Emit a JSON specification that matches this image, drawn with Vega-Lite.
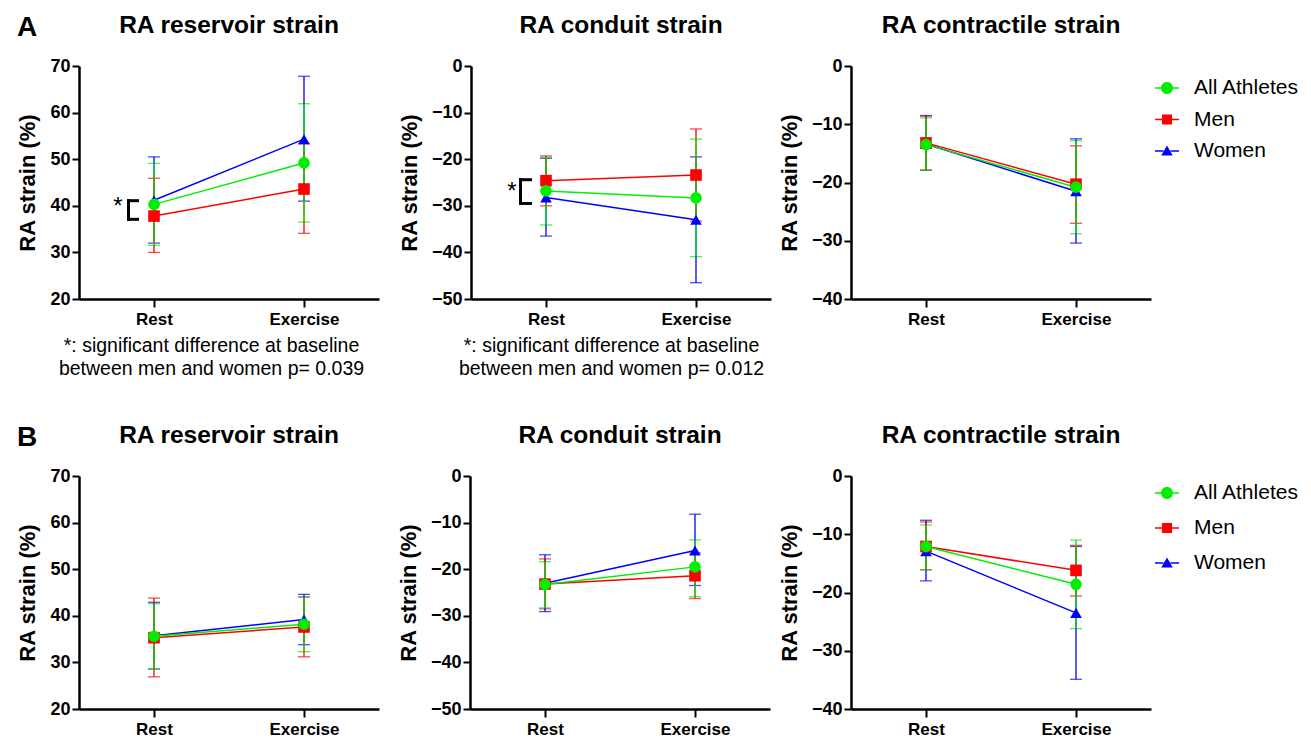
{
  "$schema": "https://vega.github.io/schema/vega-lite/v6.json",
  "padding": {"left": 16, "top": 12, "right": 0, "bottom": 0},
  "background": "white",
  "data": {"values": [
    {"p":"A1","t":"Rest","g":"Women","m":41.2,"lo":32.0,"hi":50.5},
    {"p":"A1","t":"Exercise","g":"Women","m":54.3,"lo":41.0,"hi":67.8},
    {"p":"A1","t":"Rest","g":"Men","m":37.8,"lo":30.0,"hi":45.9},
    {"p":"A1","t":"Exercise","g":"Men","m":43.6,"lo":34.1,"hi":53.3},
    {"p":"A1","t":"Rest","g":"All Athletes","m":40.3,"lo":31.5,"hi":49.1},
    {"p":"A1","t":"Exercise","g":"All Athletes","m":49.2,"lo":36.5,"hi":61.9},
    {"p":"A2","t":"Rest","g":"Women","m":-28.2,"lo":-36.5,"hi":-19.8},
    {"p":"A2","t":"Exercise","g":"Women","m":-33.0,"lo":-46.5,"hi":-19.5},
    {"p":"A2","t":"Rest","g":"Men","m":-24.6,"lo":-30.0,"hi":-19.3},
    {"p":"A2","t":"Exercise","g":"Men","m":-23.4,"lo":-33.3,"hi":-13.5},
    {"p":"A2","t":"Rest","g":"All Athletes","m":-26.8,"lo":-34.1,"hi":-19.6},
    {"p":"A2","t":"Exercise","g":"All Athletes","m":-28.3,"lo":-40.9,"hi":-15.7},
    {"p":"A3","t":"Rest","g":"Women","m":-13.4,"lo":-17.9,"hi":-8.5},
    {"p":"A3","t":"Exercise","g":"Women","m":-21.5,"lo":-30.4,"hi":-12.5},
    {"p":"A3","t":"Rest","g":"Men","m":-13.2,"lo":-17.9,"hi":-8.6},
    {"p":"A3","t":"Exercise","g":"Men","m":-20.3,"lo":-27.0,"hi":-13.7},
    {"p":"A3","t":"Rest","g":"All Athletes","m":-13.5,"lo":-17.9,"hi":-8.9},
    {"p":"A3","t":"Exercise","g":"All Athletes","m":-20.8,"lo":-28.8,"hi":-12.8},
    {"p":"B1","t":"Rest","g":"Women","m":35.7,"lo":28.6,"hi":42.9},
    {"p":"B1","t":"Exercise","g":"Women","m":39.2,"lo":33.8,"hi":44.6},
    {"p":"B1","t":"Rest","g":"Men","m":35.3,"lo":26.9,"hi":43.8},
    {"p":"B1","t":"Exercise","g":"Men","m":37.6,"lo":31.2,"hi":44.0},
    {"p":"B1","t":"Rest","g":"All Athletes","m":35.6,"lo":28.6,"hi":42.6},
    {"p":"B1","t":"Exercise","g":"All Athletes","m":38.2,"lo":32.3,"hi":44.1},
    {"p":"B2","t":"Rest","g":"Women","m":-23.0,"lo":-29.1,"hi":-16.9},
    {"p":"B2","t":"Exercise","g":"Women","m":-16.0,"lo":-23.5,"hi":-8.2},
    {"p":"B2","t":"Rest","g":"Men","m":-23.2,"lo":-28.5,"hi":-17.8},
    {"p":"B2","t":"Exercise","g":"Men","m":-21.4,"lo":-26.3,"hi":-16.5},
    {"p":"B2","t":"Rest","g":"All Athletes","m":-23.3,"lo":-28.3,"hi":-18.4},
    {"p":"B2","t":"Exercise","g":"All Athletes","m":-19.5,"lo":-25.9,"hi":-13.7},
    {"p":"B3","t":"Rest","g":"Women","m":-12.9,"lo":-18.0,"hi":-7.6},
    {"p":"B3","t":"Exercise","g":"Women","m":-23.5,"lo":-34.9,"hi":-12.1},
    {"p":"B3","t":"Rest","g":"Men","m":-12.1,"lo":-16.1,"hi":-7.9},
    {"p":"B3","t":"Exercise","g":"Men","m":-16.2,"lo":-20.6,"hi":-11.9},
    {"p":"B3","t":"Rest","g":"All Athletes","m":-12.1,"lo":-16.1,"hi":-8.4},
    {"p":"B3","t":"Exercise","g":"All Athletes","m":-18.6,"lo":-26.2,"hi":-11.0}
  ]},
  "vconcat": [
    {
      "title": {"text": "A", "anchor": "start", "frame": "bounds", "fontSize": 28, "dy": 29, "offset": 0},
      "bounds": "flush",
      "spacing": 92,
      "resolve": {"scale": {"color": "independent", "shape": "independent"}},
      "hconcat": [
        {
          "width": 300, "height": 233,
          "title": "RA reservoir strain",
          "transform": [{"filter": "datum.p==='A1'"}],
          "encoding": {
            "x": {"field": "t", "type": "ordinal", "sort": ["Rest", "Exercise"], "scale": {"type": "point", "padding": 0.5},
                  "axis": {"title": ["*: significant difference at baseline", "between men and women p= 0.039"], "titleX": 132, "titleAlign": "center", "titleFontSize": 19.5, "titleFontWeight": "normal", "titleLineHeight": 23, "titlePadding": 9, "titleBaseline": "top"}},
            "color": {"field": "g", "type": "nominal", "scale": {"domain": ["All Athletes", "Men", "Women"], "range": ["#00ee00", "#ff0000", "#0000ff"]}, "legend": null}
          },
          "layer": [
            {"mark": {"type": "errorbar", "ticks": {"size": 12, "thickness": 1.3}, "rule": {"strokeWidth": 1.3}},
             "encoding": {"y": {"field": "lo", "type": "quantitative", "scale": {"domain": [20, 70]}, "axis": {"title": "RA strain (%)", "values": [20, 30, 40, 50, 60, 70]}}, "y2": {"field": "hi"}}},
            {"mark": {"type": "line", "strokeWidth": 1.5},
             "encoding": {"y": {"field": "m", "type": "quantitative", "scale": {"domain": [20, 70]}, "axis": {"title": "RA strain (%)", "values": [20, 30, 40, 50, 60, 70]}}}},
            {"mark": {"type": "point", "filled": true, "opacity": 1, "size": 135},
             "encoding": {"y": {"field": "m", "type": "quantitative", "scale": {"domain": [20, 70]}, "axis": {"title": "RA strain (%)", "values": [20, 30, 40, 50, 60, 70]}},
                          "shape": {"field": "g", "type": "nominal", "scale": {"domain": ["All Athletes", "Men", "Women"], "range": ["circle", "square", "triangle-up"]}, "legend": null}}},
            {"data": {"values": [{}]}, "mark": {"type": "rule", "strokeWidth": 3, "strokeCap": "square", "xOffset": -25.5},
             "encoding": {"x": {"datum": "Rest"}, "y": {"datum": 37.1}, "y2": {"datum": 41.1}, "color": {"value": "black"}}},
            {"data": {"values": [{}]}, "mark": {"type": "rule", "strokeWidth": 3, "xOffset": -27, "x2Offset": -15},
             "encoding": {"x": {"datum": "Rest"}, "x2": {"datum": "Rest"}, "y": {"datum": 41.1}, "color": {"value": "black"}}},
            {"data": {"values": [{}]}, "mark": {"type": "rule", "strokeWidth": 3, "xOffset": -27, "x2Offset": -15},
             "encoding": {"x": {"datum": "Rest"}, "x2": {"datum": "Rest"}, "y": {"datum": 37.1}, "color": {"value": "black"}}},
            {"data": {"values": [{}]}, "mark": {"type": "text", "text": "*", "fontSize": 24, "xOffset": -36, "dy": -1, "baseline": "middle", "align": "center"},
             "encoding": {"x": {"datum": "Rest"}, "y": {"datum": 39.6}, "color": {"value": "black"}}}
          ]
        },
        {
          "bounds": "flush",
          "spacing": 80,
          "resolve": {"scale": {"color": "independent", "shape": "independent"}},
          "hconcat": [
            {
              "width": 300, "height": 233,
              "title": "RA conduit strain",
              "transform": [{"filter": "datum.p==='A2'"}],
              "encoding": {
                "x": {"field": "t", "type": "ordinal", "sort": ["Rest", "Exercise"], "scale": {"type": "point", "padding": 0.5},
                      "axis": {"title": ["*: significant difference at baseline", "between men and women p= 0.012"], "titleX": 140, "titleAlign": "center", "titleFontSize": 19.5, "titleFontWeight": "normal", "titleLineHeight": 23, "titlePadding": 9, "titleBaseline": "top"}},
                "color": {"field": "g", "type": "nominal", "scale": {"domain": ["All Athletes", "Men", "Women"], "range": ["#00ee00", "#ff0000", "#0000ff"]}, "legend": null}
              },
              "layer": [
                {"mark": {"type": "errorbar", "ticks": {"size": 12, "thickness": 1.3}, "rule": {"strokeWidth": 1.3}},
                 "encoding": {"y": {"field": "lo", "type": "quantitative", "scale": {"domain": [-50, 0]}, "axis": {"title": "RA strain (%)", "values": [-50, -40, -30, -20, -10, 0]}}, "y2": {"field": "hi"}}},
                {"mark": {"type": "line", "strokeWidth": 1.5},
                 "encoding": {"y": {"field": "m", "type": "quantitative", "scale": {"domain": [-50, 0]}, "axis": {"title": "RA strain (%)", "values": [-50, -40, -30, -20, -10, 0]}}}},
                {"mark": {"type": "point", "filled": true, "opacity": 1, "size": 135},
                 "encoding": {"y": {"field": "m", "type": "quantitative", "scale": {"domain": [-50, 0]}, "axis": {"title": "RA strain (%)", "values": [-50, -40, -30, -20, -10, 0]}},
                              "shape": {"field": "g", "type": "nominal", "scale": {"domain": ["All Athletes", "Men", "Women"], "range": ["circle", "square", "triangle-up"]}, "legend": null}}},
                {"data": {"values": [{}]}, "mark": {"type": "rule", "strokeWidth": 3, "strokeCap": "square", "xOffset": -25.5},
                 "encoding": {"x": {"datum": "Rest"}, "y": {"datum": -29.5}, "y2": {"datum": -24.4}, "color": {"value": "black"}}},
                {"data": {"values": [{}]}, "mark": {"type": "rule", "strokeWidth": 3, "xOffset": -27, "x2Offset": -14},
                 "encoding": {"x": {"datum": "Rest"}, "x2": {"datum": "Rest"}, "y": {"datum": -24.4}, "color": {"value": "black"}}},
                {"data": {"values": [{}]}, "mark": {"type": "rule", "strokeWidth": 3, "xOffset": -27, "x2Offset": -14},
                 "encoding": {"x": {"datum": "Rest"}, "x2": {"datum": "Rest"}, "y": {"datum": -29.5}, "color": {"value": "black"}}},
                {"data": {"values": [{}]}, "mark": {"type": "text", "text": "*", "fontSize": 24, "xOffset": -34, "dy": 2, "baseline": "middle", "align": "center"},
                 "encoding": {"x": {"datum": "Rest"}, "y": {"datum": -26.6}, "color": {"value": "black"}}}
              ]
            },
            {
              "width": 300, "height": 233,
              "title": "RA contractile strain",
              "transform": [{"filter": "datum.p==='A3'"}],
              "resolve": {"scale": {"color": "independent", "shape": "independent"}},
              "encoding": {
                "x": {"field": "t", "type": "ordinal", "sort": ["Rest", "Exercise"], "scale": {"type": "point", "padding": 0.5}, "axis": {"title": null}},
                "color": {"field": "g", "type": "nominal", "scale": {"domain": ["All Athletes", "Men", "Women"], "range": ["#00ee00", "#ff0000", "#0000ff"]}, "legend": null}
              },
              "layer": [
                {"mark": {"type": "errorbar", "ticks": {"size": 12, "thickness": 1.3}, "rule": {"strokeWidth": 1.3}},
                 "encoding": {"y": {"field": "lo", "type": "quantitative", "scale": {"domain": [-40, 0]}, "axis": {"title": "RA strain (%)", "values": [-40, -30, -20, -10, 0]}}, "y2": {"field": "hi"}}},
                {"mark": {"type": "line", "strokeWidth": 1.5},
                 "encoding": {"y": {"field": "m", "type": "quantitative", "scale": {"domain": [-40, 0]}, "axis": {"title": "RA strain (%)", "values": [-40, -30, -20, -10, 0]}}}},
                {"mark": {"type": "point", "filled": true, "opacity": 1, "size": 135},
                 "encoding": {"y": {"field": "m", "type": "quantitative", "scale": {"domain": [-40, 0]}, "axis": {"title": "RA strain (%)", "values": [-40, -30, -20, -10, 0]}},
                              "shape": {"field": "g", "type": "nominal", "scale": {"domain": ["All Athletes", "Men", "Women"], "range": ["circle", "square", "triangle-up"]}, "legend": null}}},
                {"mark": {"type": "point", "filled": true, "opacity": 0, "size": 4},
                 "encoding": {"y": {"field": "m", "type": "quantitative", "scale": {"domain": [-40, 0]}, "axis": {"title": "RA strain (%)", "values": [-40, -30, -20, -10, 0]}},
                              "color": {"field": "g", "type": "nominal", "scale": {"domain": ["All Athletes", "Men", "Women"], "range": ["#00ee00", "#ff0000", "#0000ff"]},
                                        "legend": {"title": null, "orient": "right", "offset": -6, "padding": 10, "rowPadding": 9.5, "labelOffset": 15, "labelFontSize": 21, "labelColor": "black", "symbolSize": 576, "symbolOpacity": 1, "symbolStrokeWidth": 0}},
                              "shape": {"field": "g", "type": "nominal", "scale": {"domain": ["All Athletes", "Men", "Women"], "range": [
                                          "M-1,-0.06H-0.5V0.06H-1Z M0.5,-0.06H1V0.06H0.5Z M-0.5,0A0.5,0.5 0 1,1 0.5,0A0.5,0.5 0 1,1 -0.5,0Z",
                                          "M-1,-0.06H-0.42V0.06H-1Z M0.42,-0.06H1V0.06H0.42Z M-0.42,-0.42H0.42V0.42H-0.42Z",
                                          "M-1,-0.06H-0.3V0.06H-1Z M0.3,-0.06H1V0.06H0.3Z M0,-0.46L0.48,0.38H-0.48Z"]},
                                        "legend": {"title": null, "orient": "right", "offset": -6, "padding": 10, "rowPadding": 9.5, "labelOffset": 15, "labelFontSize": 21, "labelColor": "black", "symbolSize": 576, "symbolOpacity": 1, "symbolStrokeWidth": 0}}}}
              ]
            }
          ]
        }
      ]
    },
    {
      "title": {"text": "B", "anchor": "start", "frame": "bounds", "fontSize": 28, "dy": 29, "offset": 0},
      "bounds": "flush",
      "spacing": 91,
      "resolve": {"scale": {"color": "independent", "shape": "independent"}},
      "hconcat": [
        {
          "width": 300, "height": 233,
          "title": "RA reservoir strain",
          "transform": [{"filter": "datum.p==='B1'"}],
          "encoding": {
            "x": {"field": "t", "type": "ordinal", "sort": ["Rest", "Exercise"], "scale": {"type": "point", "padding": 0.5}, "axis": {"title": null}},
            "color": {"field": "g", "type": "nominal", "scale": {"domain": ["All Athletes", "Men", "Women"], "range": ["#00ee00", "#ff0000", "#0000ff"]}, "legend": null}
          },
          "layer": [
            {"mark": {"type": "errorbar", "ticks": {"size": 12, "thickness": 1.3}, "rule": {"strokeWidth": 1.3}},
             "encoding": {"y": {"field": "lo", "type": "quantitative", "scale": {"domain": [20, 70]}, "axis": {"title": "RA strain (%)", "values": [20, 30, 40, 50, 60, 70]}}, "y2": {"field": "hi"}}},
            {"mark": {"type": "line", "strokeWidth": 1.5},
             "encoding": {"y": {"field": "m", "type": "quantitative", "scale": {"domain": [20, 70]}, "axis": {"title": "RA strain (%)", "values": [20, 30, 40, 50, 60, 70]}}}},
            {"mark": {"type": "point", "filled": true, "opacity": 1, "size": 135},
             "encoding": {"y": {"field": "m", "type": "quantitative", "scale": {"domain": [20, 70]}, "axis": {"title": "RA strain (%)", "values": [20, 30, 40, 50, 60, 70]}},
                          "shape": {"field": "g", "type": "nominal", "scale": {"domain": ["All Athletes", "Men", "Women"], "range": ["circle", "square", "triangle-up"]}, "legend": null}}}
          ]
        },
        {
          "bounds": "flush",
          "spacing": 81,
          "resolve": {"scale": {"color": "independent", "shape": "independent"}},
          "hconcat": [
            {
              "width": 300, "height": 233,
              "title": "RA conduit strain",
              "transform": [{"filter": "datum.p==='B2'"}],
              "encoding": {
                "x": {"field": "t", "type": "ordinal", "sort": ["Rest", "Exercise"], "scale": {"type": "point", "padding": 0.5}, "axis": {"title": null}},
                "color": {"field": "g", "type": "nominal", "scale": {"domain": ["All Athletes", "Men", "Women"], "range": ["#00ee00", "#ff0000", "#0000ff"]}, "legend": null}
              },
              "layer": [
                {"mark": {"type": "errorbar", "ticks": {"size": 12, "thickness": 1.3}, "rule": {"strokeWidth": 1.3}},
                 "encoding": {"y": {"field": "lo", "type": "quantitative", "scale": {"domain": [-50, 0]}, "axis": {"title": "RA strain (%)", "values": [-50, -40, -30, -20, -10, 0]}}, "y2": {"field": "hi"}}},
                {"mark": {"type": "line", "strokeWidth": 1.5},
                 "encoding": {"y": {"field": "m", "type": "quantitative", "scale": {"domain": [-50, 0]}, "axis": {"title": "RA strain (%)", "values": [-50, -40, -30, -20, -10, 0]}}}},
                {"mark": {"type": "point", "filled": true, "opacity": 1, "size": 135},
                 "encoding": {"y": {"field": "m", "type": "quantitative", "scale": {"domain": [-50, 0]}, "axis": {"title": "RA strain (%)", "values": [-50, -40, -30, -20, -10, 0]}},
                              "shape": {"field": "g", "type": "nominal", "scale": {"domain": ["All Athletes", "Men", "Women"], "range": ["circle", "square", "triangle-up"]}, "legend": null}}}
              ]
            },
            {
              "width": 300, "height": 233,
              "title": "RA contractile strain",
              "transform": [{"filter": "datum.p==='B3'"}],
              "resolve": {"scale": {"color": "independent", "shape": "independent"}},
              "encoding": {
                "x": {"field": "t", "type": "ordinal", "sort": ["Rest", "Exercise"], "scale": {"type": "point", "padding": 0.5}, "axis": {"title": null}},
                "color": {"field": "g", "type": "nominal", "scale": {"domain": ["All Athletes", "Men", "Women"], "range": ["#00ee00", "#ff0000", "#0000ff"]}, "legend": null}
              },
              "layer": [
                {"mark": {"type": "errorbar", "ticks": {"size": 12, "thickness": 1.3}, "rule": {"strokeWidth": 1.3}},
                 "encoding": {"y": {"field": "lo", "type": "quantitative", "scale": {"domain": [-40, 0]}, "axis": {"title": "RA strain (%)", "values": [-40, -30, -20, -10, 0]}}, "y2": {"field": "hi"}}},
                {"mark": {"type": "line", "strokeWidth": 1.5},
                 "encoding": {"y": {"field": "m", "type": "quantitative", "scale": {"domain": [-40, 0]}, "axis": {"title": "RA strain (%)", "values": [-40, -30, -20, -10, 0]}}}},
                {"mark": {"type": "point", "filled": true, "opacity": 1, "size": 135},
                 "encoding": {"y": {"field": "m", "type": "quantitative", "scale": {"domain": [-40, 0]}, "axis": {"title": "RA strain (%)", "values": [-40, -30, -20, -10, 0]}},
                              "shape": {"field": "g", "type": "nominal", "scale": {"domain": ["All Athletes", "Men", "Women"], "range": ["circle", "square", "triangle-up"]}, "legend": null}}},
                {"mark": {"type": "point", "filled": true, "opacity": 0, "size": 4},
                 "encoding": {"y": {"field": "m", "type": "quantitative", "scale": {"domain": [-40, 0]}, "axis": {"title": "RA strain (%)", "values": [-40, -30, -20, -10, 0]}},
                              "color": {"field": "g", "type": "nominal", "scale": {"domain": ["All Athletes", "Men", "Women"], "range": ["#00ee00", "#ff0000", "#0000ff"]},
                                        "legend": {"title": null, "orient": "right", "offset": -1, "padding": 5, "rowPadding": 13, "labelOffset": 15, "labelFontSize": 21, "labelColor": "black", "symbolSize": 576, "symbolOpacity": 1, "symbolStrokeWidth": 0}},
                              "shape": {"field": "g", "type": "nominal", "scale": {"domain": ["All Athletes", "Men", "Women"], "range": [
                                          "M-1,-0.06H-0.5V0.06H-1Z M0.5,-0.06H1V0.06H0.5Z M-0.5,0A0.5,0.5 0 1,1 0.5,0A0.5,0.5 0 1,1 -0.5,0Z",
                                          "M-1,-0.06H-0.42V0.06H-1Z M0.42,-0.06H1V0.06H0.42Z M-0.42,-0.42H0.42V0.42H-0.42Z",
                                          "M-1,-0.06H-0.3V0.06H-1Z M0.3,-0.06H1V0.06H0.3Z M0,-0.46L0.48,0.38H-0.48Z"]},
                                        "legend": {"title": null, "orient": "right", "offset": -1, "padding": 5, "rowPadding": 13, "labelOffset": 15, "labelFontSize": 21, "labelColor": "black", "symbolSize": 576, "symbolOpacity": 1, "symbolStrokeWidth": 0}}}}
              ]
            }
          ]
        }
      ]
    }
  ],
  "bounds": "flush",
  "spacing": 410,
  "resolve": {"scale": {"color": "independent", "shape": "independent"}},
  "config": {
    "font": "Liberation Sans",
    "view": {"stroke": null},
    "title": {"font": "Liberation Sans", "fontSize": 24.5, "fontWeight": "bold", "color": "black", "offset": 19, "anchor": "middle"},
    "axis": {"grid": false, "domainColor": "black", "domainWidth": 2.5, "tickColor": "black", "tickWidth": 2, "labelColor": "black", "labelFont": "Liberation Sans", "labelFontWeight": "bold", "titleColor": "black", "titleFont": "Liberation Sans"},
    "axisY": {"labelFontSize": 18, "labelPadding": 2, "tickSize": 7, "titleFontSize": 22, "titleFontWeight": "bold", "titlePadding": 10},
    "axisX": {"labelFontSize": 17, "labelPadding": 4, "tickSize": 8, "labelAngle": 0},
    "legend": {"labelFont": "Liberation Sans"}
  }
}
